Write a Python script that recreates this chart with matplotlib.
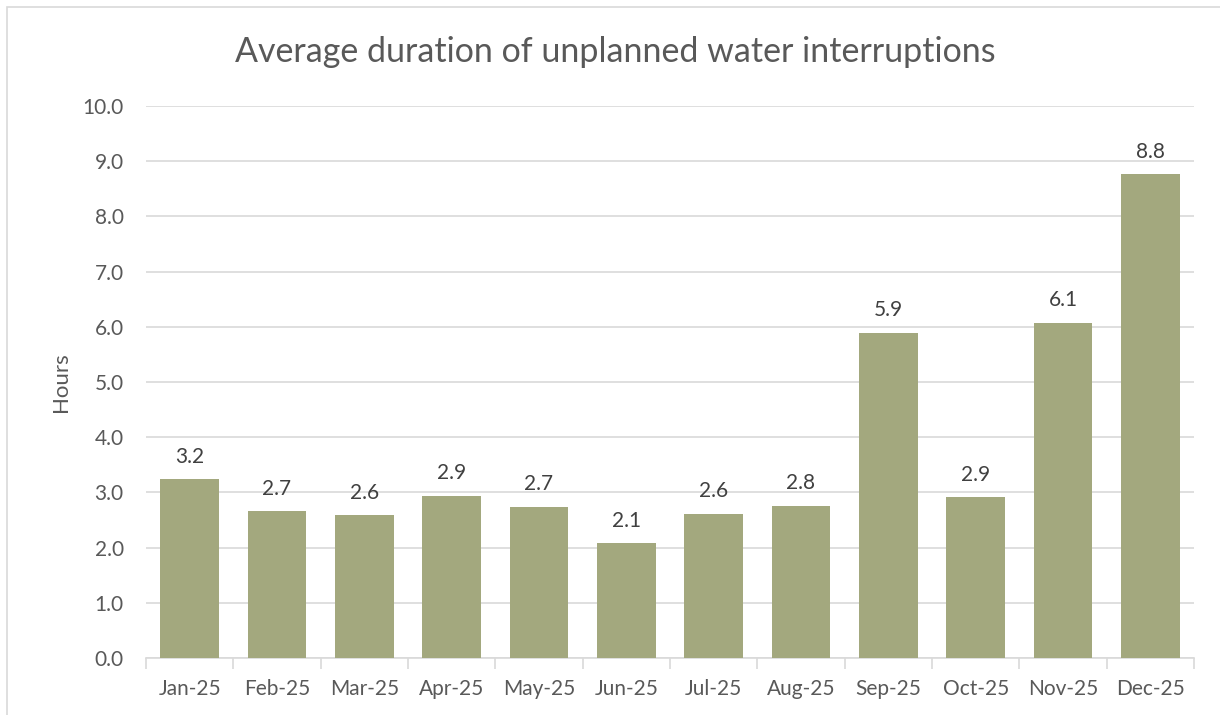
import matplotlib.pyplot as plt
from matplotlib.patches import Rectangle

months = ['Jan-25', 'Feb-25', 'Mar-25', 'Apr-25', 'May-25', 'Jun-25',
          'Jul-25', 'Aug-25', 'Sep-25', 'Oct-25', 'Nov-25', 'Dec-25']
hours = [3.24, 2.66, 2.59, 2.94, 2.74, 2.08, 2.61, 2.76, 5.89, 2.91, 6.07, 8.76]
yticks = [0, 1, 2, 3, 4, 5, 6, 7, 8, 9, 10]

plt.rcParams['font.family'] = ['Lato', 'DejaVu Sans']
grey = '#595959'

fig = plt.figure(figsize=(12.2, 7.15), dpi=100)
ax = fig.add_axes([146 / 1220, 57 / 715, 1048 / 1220, 552 / 715])

# light frame around the chart area
fig.patches.append(Rectangle((7 / 1220, -0.05), 1.2, (708 / 715) + 0.05,
                             transform=fig.transFigure, fill=False,
                             edgecolor='#D9D9D9', linewidth=1.2))

x = range(len(months))
bars = ax.bar(x, hours, width=0.67, color='#A3A87E', zorder=3)
for b, v in zip(bars, hours):
    ax.annotate(f'{v:.1f}', (b.get_x() + b.get_width() / 2, v),
                xytext=(0, 9), textcoords='offset points',
                ha='center', va='bottom', fontsize=15, color='#404040')

ax.set_xlim(-0.5, len(months) - 0.5)
ax.set_ylim(0, 10)
ax.set_yticks(yticks)
ax.set_yticklabels([f'{t:.1f}' for t in yticks], fontsize=15, color=grey)
ax.set_xticks(list(x))
ax.set_xticklabels(months, fontsize=15, color=grey)
ax.tick_params(axis='x', length=0, pad=15)
ax.tick_params(axis='y', length=0, pad=16)
ax.set_xticks([i - 0.5 for i in range(len(months) + 1)], minor=True)
ax.tick_params(axis='x', which='minor', length=8, color='#D9D9D9', width=1.2)

ax.grid(axis='y', color='#D9D9D9', linewidth=1.2, zorder=0)
for s in ['top', 'right', 'left']:
    ax.spines[s].set_visible(False)
ax.spines['bottom'].set_color('#D9D9D9')
ax.spines['bottom'].set_linewidth(1.2)

ax.set_ylabel('Hours', fontsize=16, color=grey, labelpad=8)
fig.text(615 / 1220, 1 - 52 / 715, 'Average duration of unplanned water interruptions',
         ha='center', va='center', fontsize=24.5, color=grey)

fig.savefig('out.png', dpi=100, facecolor='white')
